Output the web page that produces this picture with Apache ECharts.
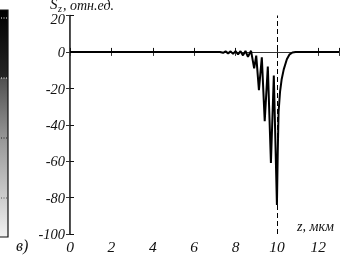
<!DOCTYPE html>
<html>
<head>
<meta charset="utf-8">
<script src="https://cdn.jsdelivr.net/npm/echarts@6/dist/echarts.min.js"></script>
<style>
html,body{margin:0;padding:0;background:#fff;}
#chart{width:342px;height:256px;}
</style>
</head>
<body>
<div id="chart"></div>
<script>
// z, мкм
var zValues = [0, 6.5, 7.25, 7.4, 7.52, 7.64, 7.76, 7.88, 8.0, 8.12, 8.24, 8.36, 8.48, 8.6, 8.75, 8.9, 9.0, 9.13, 9.27, 9.41, 9.56, 9.71, 9.85, 10.0, 10.04, 10.08, 10.15, 10.23, 10.33, 10.48, 10.6, 10.75, 10.9, 13];
// S_z, отн.ед.
var szValues = [0, 0, 0, -0.5, 0.3, -0.8, 0.3, -1.1, 0.4, -1.4, 0.4, -1.9, 0.5, -2.7, 0.6, -9, -2, -21, -3, -38, -8, -61, -13, -84, -55, -33, -22, -15, -9.6, -4, -1.5, -0.3, 0, 0];
var xTickLabels = ['0', '2', '4', '6', '8', '10', '12'];
var yTickLabels = ['-100', '-80', '-60', '-40', '-20', '0', '20'];
var markerZ = 10;

var serif = 'Liberation Serif';
var pts = zValues.map(function (z, i) { return [z, szValues[i]]; });

var chart = echarts.init(document.getElementById('chart'), null, {renderer: 'canvas'});
function lab(size) { return {fontFamily: serif, fontStyle: 'italic', fontSize: size, color: '#111'}; }
chart.setOption({
  animation: false,
  backgroundColor: '#fff',
  grid: {left: 70, right: 2, top: 15.5, bottom: 20, containLabel: false},
  xAxis: [{
    type: 'value', min: 0, max: 13, interval: 2,
    axisLine: {lineStyle: {color: '#111', width: 1.2}},
    axisTick: {inside: true, length: 4, lineStyle: {color: '#111'}},
    splitLine: {show: false},
    axisLabel: Object.assign({margin: 6, formatter: function (v) {
      var s = String(v); return xTickLabels.indexOf(s) >= 0 ? s : '';
    }}, lab(15.5))
  }, {
    type: 'value', min: 0, max: 13, interval: 2, position: 'top',
    axisLine: {lineStyle: {color: '#333', width: 1}},
    axisTick: {inside: true, length: 4, lineStyle: {color: '#333'}},
    splitLine: {show: false}, axisLabel: {show: false}
  }],
  yAxis: [{
    type: 'value', min: -100, max: 20, interval: 20,
    axisLine: {lineStyle: {color: '#111', width: 1.6}},
    axisTick: {inside: true, length: 4, lineStyle: {color: '#111'}},
    splitLine: {show: false},
    axisLabel: Object.assign({margin: 5, formatter: function (v) {
      var s = String(v);
      if (yTickLabels.indexOf(s) < 0) return '';
      return s === '20' ? '{t|' + s + '}' : '{n|' + s + '}';
    }, rich: {
      t: {fontFamily: serif, fontStyle: 'italic', fontSize: 14.5, color: '#111', padding: [9, 0, 0, 0]},
      n: {fontFamily: serif, fontStyle: 'italic', fontSize: 14.5, color: '#111', padding: [3, 0, 0, 0]}
    }}, lab(14.5))
  }, {
    type: 'value', min: -100, max: 20, interval: 20, position: 'right',
    axisLine: {lineStyle: {color: '#555', width: 1}},
    axisTick: {inside: true, length: 4, lineStyle: {color: '#333'}},
    splitLine: {show: false}, axisLabel: {show: false}
  }],
  series: [{
    type: 'line', data: pts, showSymbol: false, smooth: false,
    lineStyle: {color: '#000', width: 2},
    markLine: {
      silent: true, symbol: 'none', label: {show: false},
      lineStyle: {color: '#000', type: [5, 3], width: 1},
      data: [{xAxis: markerZ}]
    }
  }],
  graphic: [
    {type: 'rect', shape: {x: 0, y: 10, width: 8, height: 68},
      style: {fill: new echarts.graphic.LinearGradient(0, 0, 0, 1, [{offset: 0, color: '#000'}, {offset: 1, color: '#262626'}]), stroke: null}},
    {type: 'rect', shape: {x: 0, y: 78, width: 8, height: 159},
      style: {fill: new echarts.graphic.LinearGradient(0, 0, 0, 1, [{offset: 0, color: '#505050'}, {offset: 0.4, color: '#9a9a9a'}, {offset: 0.8, color: '#d4d4d4'}, {offset: 1, color: '#f2f2f2'}]), stroke: null}},
    {type: 'rect', shape: {x: -1, y: 10, width: 9, height: 227}, style: {fill: null, stroke: '#111', lineWidth: 1.2}},
    {type: 'line', shape: {x1: 1, y1: 18, x2: 7, y2: 18}, style: {stroke: '#fff', lineWidth: 1, lineDash: [1, 1.5]}},
    {type: 'line', shape: {x1: 1, y1: 78, x2: 7, y2: 78}, style: {stroke: '#fff', lineWidth: 1, lineDash: [1, 1.5]}},
    {type: 'line', shape: {x1: 1, y1: 138, x2: 7, y2: 138}, style: {stroke: '#222', lineWidth: 1, lineDash: [1, 1.5]}},
    {type: 'line', shape: {x1: 1, y1: 198, x2: 7, y2: 198}, style: {stroke: '#555', lineWidth: 1, lineDash: [1, 1.5]}},
    {type: 'text', x: 16, y: 239, style: {text: 'в)', fontFamily: serif, fontStyle: 'italic', fontSize: 16, fill: '#111'}},
    {type: 'text', x: 50, y: -2, style: {text: 'S', fontFamily: serif, fontStyle: 'italic', fontSize: 15, fill: '#111'}},
    {type: 'text', x: 58, y: 4, style: {text: 'z', fontFamily: serif, fontStyle: 'italic', fontSize: 10, fill: '#111'}},
    {type: 'text', x: 63, y: -1, style: {text: ', отн.ед.', fontFamily: serif, fontStyle: 'italic', fontSize: 14, fill: '#111'}},
    {type: 'text', x: 297, y: 220, style: {text: 'z, мкм', fontFamily: serif, fontStyle: 'italic', fontSize: 14, fill: '#111'}}
  ]
});
</script>
</body>
</html>
